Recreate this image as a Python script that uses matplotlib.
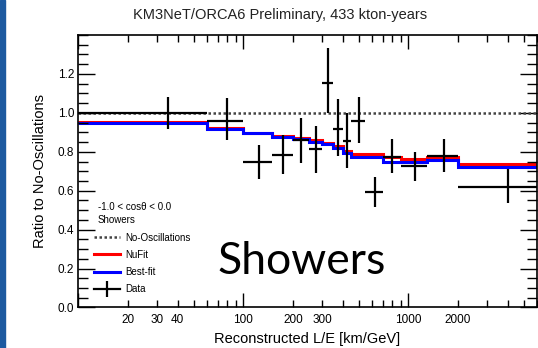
import numpy as np
import matplotlib
matplotlib.use("Agg")
import matplotlib.pyplot as plt
from matplotlib.ticker import FixedLocator, FixedFormatter, FormatStrFormatter
from matplotlib.patches import Rectangle
from matplotlib.lines import Line2D

plt.rcParams['font.family'] = ['Liberation Sans', 'DejaVu Sans']

# bin edges in L/E [km/GeV]
edges = [10, 60, 100, 150, 200, 250, 300, 350, 400, 450, 550, 700, 900, 1300, 2000, 6000]

# ratio to no-oscillations
data = [1.000, 0.960, 0.746, 0.784, 0.861, 0.813, 1.153, 0.916, 0.853, 0.960, 0.593, 0.775, 0.728, 0.779, 0.621]
err_up = [0.083, 0.116, 0.089, 0.103, 0.112, 0.120, 0.180, 0.154, 0.147, 0.124, 0.079, 0.090, 0.072, 0.087, 0.089]
err_dn = [0.083, 0.099, 0.087, 0.098, 0.120, 0.120, 0.155, 0.137, 0.137, 0.116, 0.076, 0.085, 0.078, 0.084, 0.082]

nufit = [0.952, 0.921, 0.898, 0.882, 0.873, 0.858, 0.847, 0.832, 0.805, 0.789, 0.789, 0.772, 0.762, 0.775, 0.738]
bestfit = [0.950, 0.919, 0.896, 0.878, 0.866, 0.852, 0.839, 0.818, 0.796, 0.775, 0.771, 0.750, 0.745, 0.758, 0.724]

edges = np.array(edges)
centers = (edges[:-1] + edges[1:]) / 2
xlo = centers - edges[:-1]
xhi = edges[1:] - centers

fig = plt.figure(figsize=(5.38, 3.48), dpi=100)
ax = fig.add_axes([0.1455, 0.1164, 0.852, 0.783])

# blue strip on the left border
fig.patches.append(Rectangle((0, 0), 5 / 538, 1, transform=fig.transFigure,
                             color='#1d5aa0', zorder=0))

ax.axhline(1.0, color='#444444', lw=1.8, ls=(0, (1, 1)))
ax.stairs(nufit, edges, color='red', lw=2.2, baseline=None)
ax.stairs(bestfit, edges, color='blue', lw=2.2, baseline=None)
ax.errorbar(centers, data, xerr=[xlo, xhi], yerr=[err_dn, err_up], fmt='none',
            ecolor='black', elinewidth=1.6, capsize=0, zorder=5)

ax.set_xscale('log')
ax.set_xlim(10, 6000)
ax.set_ylim(0, 1.4)

# ticks, ROOT-like
ax.xaxis.set_major_locator(FixedLocator([10, 100, 1000]))
ax.xaxis.set_major_formatter(FixedFormatter(['', '100', '1000']))
minors = [m * 10 ** e for e in range(1, 4) for m in range(2, 10)]
minors = [v for v in minors if v <= 6000]
ax.xaxis.set_minor_locator(FixedLocator(minors))
lab = {20: '20', 30: '30', 40: '40', 200: '200', 300: '300', 2000: '2000'}
ax.xaxis.set_minor_formatter(FixedFormatter([lab.get(v, '') for v in minors]))
ax.set_yticks(np.arange(0, 1.3, 0.2))
ax.set_yticks(np.arange(0, 1.41, 0.05), minor=True)
ax.yaxis.set_major_formatter(FormatStrFormatter('%.1f'))

ax.tick_params(which='both', direction='in', top=True, right=True, labelsize=8.5, width=1)
ax.tick_params(axis='x', which='major', length=10, pad=5)
ax.tick_params(axis='x', which='minor', length=5, pad=5)
ax.tick_params(axis='y', which='major', length=12, pad=3)
ax.tick_params(axis='y', which='minor', length=7)
for s in ax.spines.values():
    s.set_linewidth(1.2)

ax.set_xlabel('Reconstructed L/E [km/GeV]', fontsize=10.5, labelpad=4)
ax.set_ylabel('Ratio to No-Oscillations', fontsize=10.5, labelpad=8)
fig.text(0.52, 0.957, 'KM3NeT/ORCA6 Preliminary, 433 kton-years', ha='center', va='center',
         fontsize=10.5, color='#222222')

ax.text(0.043, 0.369, '-1.0 < cosθ < 0.0', transform=ax.transAxes, fontsize=7, va='center')
ax.text(0.043, 0.321, 'Showers', transform=ax.transAxes, fontsize=7, va='center')
handles = [Line2D([], [], color='#444444', lw=1.8, ls=(0, (1, 1))),
           Line2D([], [], color='red', lw=2.2),
           Line2D([], [], color='blue', lw=2.2),
           Line2D([], [], color='black', lw=1.6, marker='|', markersize=11, markeredgewidth=1.6)]
ax.legend(handles, ['No-Oscillations', 'NuFit', 'Best-fit', 'Data'],
          loc='upper left', bbox_to_anchor=(0.02, 0.30), frameon=False, fontsize=7,
          handlelength=2.6, handletextpad=0.6, labelspacing=0.75, borderpad=0.2, numpoints=1)

ax.text(0.487, 0.17, 'Showers', transform=ax.transAxes, fontsize=32, ha='center', va='center',
        family=['Lato', 'DejaVu Sans'], color='black')

fig.savefig('out.png', dpi=100)
